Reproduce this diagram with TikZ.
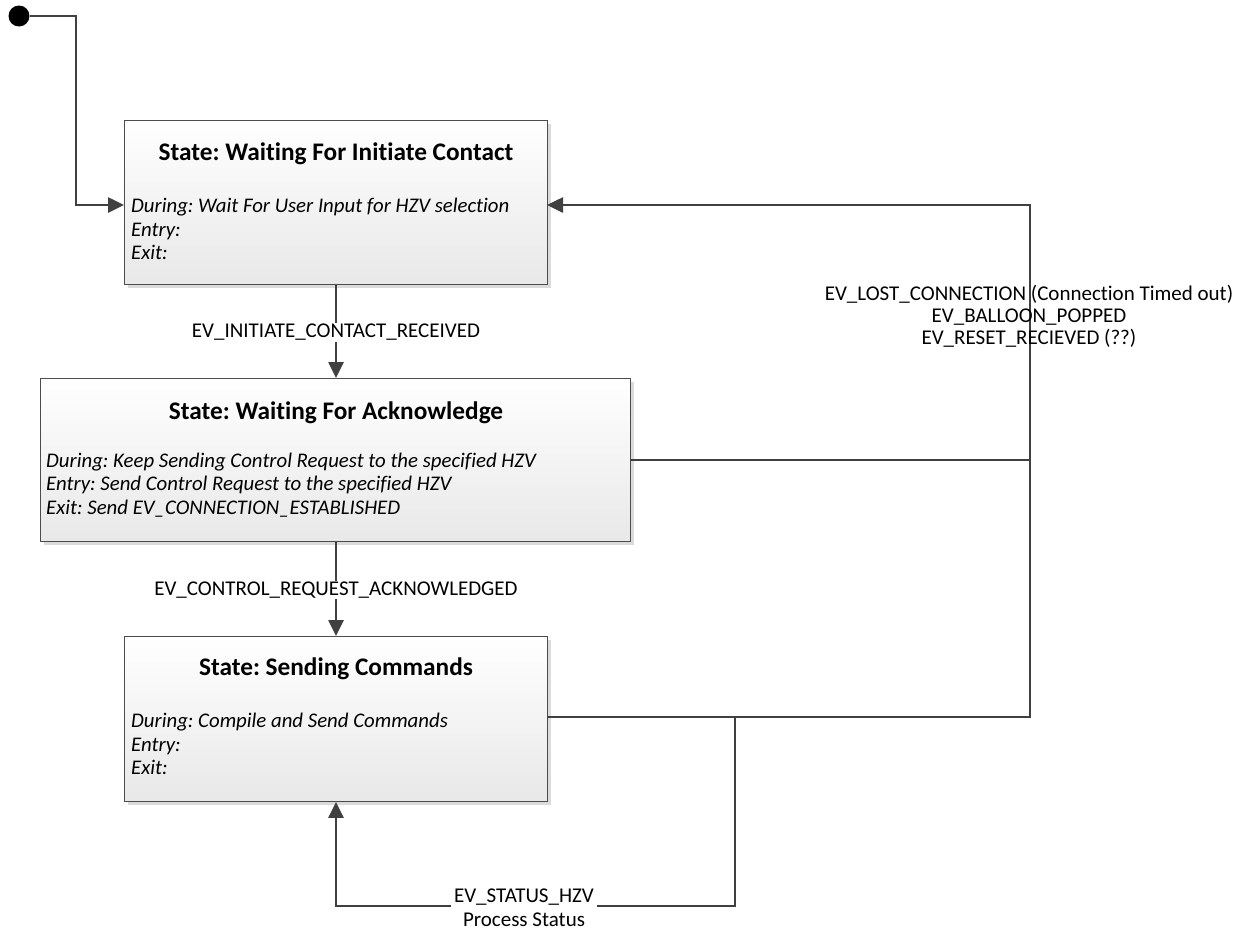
\documentclass[tikz,border=0pt]{standalone}
\usepackage{fontspec}
\setmainfont{Carlito}[Ligatures=NoCommon]
\usetikzlibrary{arrows.meta,shadows}
\begin{document}
\begin{tikzpicture}[x=1pt,y=-1pt,
  statebox/.style={draw=black!70,line width=0.9pt,top color=white,bottom color=black!9,
    drop shadow={shadow xshift=4pt,shadow yshift=-4pt,fill=black!14,opacity=1},
    anchor=north west,inner sep=0pt},
  titletext/.style={font=\fontsize{25.3}{28}\selectfont\bfseries\frenchspacing,inner sep=0pt},
  bodytext/.style={font=\fontsize{20.8}{23.2}\selectfont\itshape\frenchspacing,align=left,anchor=west,inner sep=0pt},
  lbl/.style={font=\fontsize{21}{22}\selectfont\frenchspacing,align=center,inner sep=1pt},
  conn/.style={draw=black!75,line width=2.6pt},
  arr/.style={conn,-{Triangle[length=16pt,width=15pt]}},
]
\useasboundingbox (0,0) rectangle (1244,932);
% states
\node[statebox,minimum width=423pt,minimum height=164pt] (s1) at (124,120) {};
\node[titletext] (t1) at (336,154) {State: Waiting For Initiate Contact};
\node[bodytext] (b1) at (131,229) {During: Wait For User Input for HZV selection\\Entry:\\Exit:};

\node[statebox,minimum width=590pt,minimum height=163pt] (s2) at (40,378) {};
\node[titletext] (t2) at (336,413) {State: Waiting For Acknowledge};
\node[bodytext] (b2) at (46,485) {During: Keep Sending Control Request to the specified HZV\\Entry: Send Control Request to the specified HZV\\Exit: Send EV\_CONNECTION\_ESTABLISHED};

\node[statebox,minimum width=423pt,minimum height=165pt] (s3) at (124,636) {};
\node[titletext] (t3) at (336,669) {State: Sending Commands};
\node[bodytext] (b3) at (131,744) {During: Compile and Send Commands\\Entry:\\Exit:};

% initial
\node[circle,fill=black,minimum size=21pt,inner sep=0pt] (init) at (19,16) {};
\coordinate (s1in) at (124,205);
\coordinate (s1ret) at (547,205);
\coordinate (s2out) at (630,460);
\coordinate (s3out) at (547,717);
\coordinate (join) at (1030,460);
\coordinate (split) at (735,717);

\draw[arr] (init.east) -| (76,205) -- (s1in);
\draw[arr] (s1.south -| 336,0) -- (s2.north -| 336,0)
  node[lbl,fill=white,pos=0.5,yshift=-1pt] (l1) {EV\_INITIATE\_CONTACT\_RECEIVED};
\draw[arr] (s2.south -| 336,0) -- (s3.north -| 336,0)
  node[lbl,fill=white,pos=0.5,yshift=-1pt] (l2) {EV\_CONTROL\_REQUEST\_ACKNOWLEDGED};
\draw[conn] (s2out) -- (join);
\draw[arr] (s3out) -| (1030,205) -- (s1ret);
\node[lbl] (l3) at (1029,316) {EV\_LOST\_CONNECTION (Connection Timed out)\\EV\_BALLOON\_POPPED\\EV\_RESET\_RECIEVED (??)};
\draw[arr] (split) |- (336,906) -- (s3.south -| 336,0);
\node[lbl,fill=white,inner xsep=3pt,inner ysep=0pt,text depth=6pt,anchor=base] (l4) at (524,902) {EV\_STATUS\_HZV};
\node[lbl,anchor=base] (l5) at (524,926) {Process Status};
\end{tikzpicture}
\end{document}
